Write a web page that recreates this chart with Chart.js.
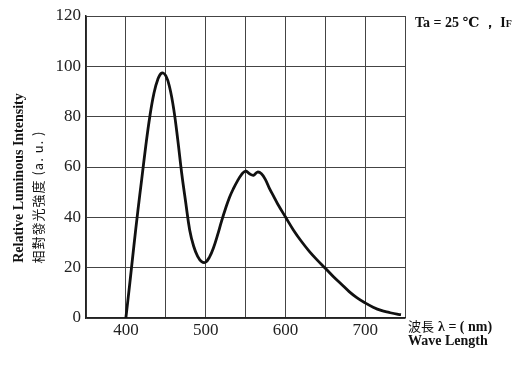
<!DOCTYPE html>
<html lang="zh-Hant">
<head>
  <meta charset="UTF-8">
  <title>Relative Luminous Intensity vs Wave Length</title>
  <script src="https://cdn.jsdelivr.net/npm/chart.js"></script>
  <style>
    body { margin: 0; background: #fff; }
    #box { width: 530px; height: 365px; }
  </style>
</head>
<body>
  <div id="box"><canvas id="myChart" width="530" height="365"></canvas></div>

  <script>
    // wavelength (nm) and relative intensity
    const waveLength = [400, 405, 410, 415, 420, 425, 430, 435, 440, 445, 450, 455, 460, 465, 470, 475, 480, 485, 490, 495,
      500, 505, 510, 515, 520, 525, 530, 535, 540, 545, 550, 555, 560, 565, 570, 575, 580, 585, 590, 600,
      610, 620, 630, 640, 650, 660, 670, 680, 690, 700, 710, 720, 730, 740, 745];
    const intensity = [0, 14, 28.5, 42.5, 55.5, 68.5, 80, 89, 94.8, 97.3, 96.3, 91.5, 83, 71, 57.5, 46, 35, 28.5, 24.5, 22.4,
      22.2, 24.3, 28, 33, 38.5, 43.5, 48, 51.5, 54.5, 57, 58.4, 57.3, 56.7, 58, 57.3, 55, 51.5, 48.5, 45.5, 40.2,
      35, 30.5, 26.5, 23, 19.8, 16.5, 13.5, 10.5, 8, 6, 4.3, 3, 2.2, 1.5, 1.3];
    const xTicks = [400, 500, 600, 700];
    const yTicks = [0, 20, 40, 60, 80, 100, 120];

    const serif = "'Liberation Serif', 'DejaVu Serif', serif";
    const cjk = "'Noto Sans CJK TC', 'Noto Sans CJK SC', sans-serif";

    // extra labels around the plot (axis titles, condition note)
    const labelsPlugin = {
      id: 'labels',
      afterDraw(chart) {
        const ctx = chart.ctx;
        ctx.save();
        ctx.fillStyle = '#111';

        // y axis titles, rotated
        ctx.save();
        ctx.translate(19, 178);
        ctx.rotate(-Math.PI / 2);
        ctx.textAlign = 'center';
        ctx.textBaseline = 'middle';
        ctx.font = 'bold 14px ' + serif;
        ctx.fillText('Relative Luminous Intensity', 0, 0);
        ctx.restore();

        ctx.save();
        ctx.translate(38, 197);
        ctx.rotate(-Math.PI / 2);
        ctx.textAlign = 'center';
        ctx.textBaseline = 'middle';
        ctx.font = '13px ' + cjk;
        ctx.letterSpacing = '1px';
        ctx.fillText('相對發光強度 (a. u. )', 0, 0);
        ctx.restore();

        // condition note, top right
        ctx.textAlign = 'left';
        ctx.textBaseline = 'alphabetic';
        ctx.font = 'bold 14px ' + serif;
        ctx.fillText('Ta = 25 ℃ ， I', 415, 27);
        let w = ctx.measureText('Ta = 25 ℃ ， I').width;
        ctx.font = 'bold 10px ' + serif;
        ctx.fillText('F', 415 + w, 27);

        // x axis titles
        ctx.font = '13px ' + cjk;
        ctx.fillText('波長', 408, 331);
        ctx.font = 'bold 14px ' + serif;
        ctx.fillText('λ = ( nm)', 438, 331);
        ctx.fillText('Wave Length', 408, 345);
        ctx.restore();
      }
    };

    const data = {
      datasets: [{
        data: waveLength.map((x, i) => ({ x: x, y: intensity[i] })),
        borderColor: '#111',
        borderWidth: 2.8,
        pointRadius: 0,
        fill: false,
        tension: 0.4
      }]
    };

    const config = {
      type: 'line',
      data,
      options: {
        responsive: false,
        animation: false,
        layout: { padding: { top: 16, right: 125, left: 0, bottom: 0 } },
        plugins: { legend: { display: false }, tooltip: { enabled: false } },
        scales: {
          x: {
            type: 'linear',
            min: 350,
            max: 750,
            afterFit: s => { s.height = 47; },
            grid: { color: '#444', lineWidth: 1, drawTicks: false },
            border: { color: '#222', width: 1.5 },
            ticks: {
              stepSize: 50,
              padding: 2,
              color: '#222',
              font: { family: serif, size: 17 },
              callback: v => xTicks.includes(v) ? v : ''
            }
          },
          y: {
            min: 0,
            max: 120,
            afterFit: s => { s.width = 86; },
            grid: { color: '#444', lineWidth: 1, drawTicks: false },
            border: { color: '#222', width: 1.5 },
            ticks: {
              stepSize: 20,
              padding: 5,
              color: '#222',
              font: { family: serif, size: 17 },
              callback: v => yTicks.includes(v) ? v : ''
            }
          }
        }
      },
      plugins: [labelsPlugin]
    };

    const myChart = new Chart(document.getElementById('myChart'), config);
  </script>
</body>
</html>
